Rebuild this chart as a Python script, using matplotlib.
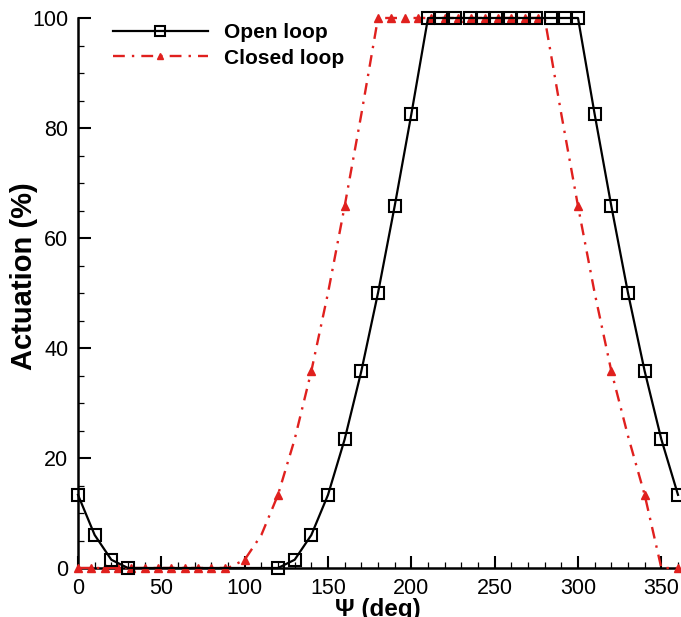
import matplotlib
matplotlib.use("Agg")
import matplotlib.pyplot as plt
from matplotlib.ticker import MultipleLocator
from matplotlib.lines import Line2D

# Open loop (black squares)
open_x = [0, 10, 20, 30, 120, 130, 140, 150, 160, 170, 180, 190, 200,
          210, 218, 226, 235, 243, 251, 259, 267, 275, 284, 292, 300,
          310, 320, 330, 340, 350, 360]
open_y = [13.3, 6.0, 1.5, 0.0, 0.0, 1.5, 6.0, 13.3, 23.4, 35.8, 50.0, 65.8, 82.5,
          100, 100, 100, 100, 100, 100, 100, 100, 100, 100, 100, 100,
          82.5, 65.8, 50.0, 35.8, 23.4, 13.3]
open_marked_x = [0, 10, 20, 30, 120, 130, 140, 150, 160, 170, 180, 190, 200,
                 210, 218, 226, 235, 243, 251, 259, 267, 275, 284, 292, 300,
                 310, 320, 330, 340, 350, 360]

# Closed loop (red triangles)
closed_x = [0, 8, 16, 24, 32, 40, 48, 56, 64, 72, 80, 88, 90,
            100, 110, 120, 130, 140, 150, 160, 170,
            180, 188, 196, 204, 212, 220, 228, 236, 244, 252, 260, 268, 276, 280,
            290, 300, 310, 320, 330, 340, 350, 360]
closed_y = [0, 0, 0, 0, 0, 0, 0, 0, 0, 0, 0, 0, 0,
            1.5, 6.0, 13.3, 23.4, 35.8, 50.0, 65.8, 82.5,
            100, 100, 100, 100, 100, 100, 100, 100, 100, 100, 100, 100, 100, 100,
            82.5, 65.8, 50.0, 35.8, 24.0, 13.3, 0.0, 0.0]
closed_marked_x = [0, 8, 16, 24, 32, 40, 48, 56, 64, 72, 80, 88,
                   100, 120, 140, 160,
                   180, 188, 196, 204, 212, 220, 228, 236, 244, 252, 260, 268, 276,
                   300, 320, 340, 360]

x_ticks = [0, 50, 100, 150, 200, 250, 300, 350]
y_ticks = [0, 20, 40, 60, 80, 100]

FONT = "Liberation Sans"
plt.rcParams['font.family'] = [FONT, 'DejaVu Sans']

fig = plt.figure(figsize=(6.81, 6.17), dpi=100)
ax = fig.add_axes([78/681, 49/617, 600/681, 550/617])

red = '#e0201e'
dashdot = (0, (5, 3, 1, 3))
c_mark = [i for i, v in enumerate(closed_x) if v in closed_marked_x]
o_mark = [i for i, v in enumerate(open_x) if v in open_marked_x]

ax.plot(closed_x, closed_y, color=red, lw=1.7, linestyle=dashdot,
        marker='^', markersize=6, markerfacecolor=red, markeredgecolor=red,
        markevery=c_mark, clip_on=False, zorder=3)
ax.plot(open_x, open_y, color='black', lw=1.6, marker='s', markersize=8.5,
        markerfacecolor='none', markeredgecolor='black', markeredgewidth=1.5,
        markevery=o_mark, clip_on=False, zorder=4)

h1 = Line2D([], [], color='black', lw=1.6, marker='s', markersize=7,
            markerfacecolor='none', markeredgecolor='black', markeredgewidth=1.5)
h2 = Line2D([], [], color=red, lw=1.7, linestyle=dashdot,
            marker='^', markersize=5, markerfacecolor=red, markeredgecolor=red)
ax.legend([h1, h2], ['Open loop', 'Closed loop'], loc='upper left',
          bbox_to_anchor=(0.058, 0.99), borderaxespad=0, borderpad=0,
          frameon=False, handlelength=4.55, handletextpad=0.8,
          labelspacing=0.3,
          prop={'family': FONT, 'weight': 'bold', 'size': 15})

ax.set_xlim(0, 360)
ax.set_ylim(0, 100)
ax.set_xticks(x_ticks)
ax.set_yticks(y_ticks)
ax.xaxis.set_minor_locator(MultipleLocator(10))
ax.yaxis.set_minor_locator(MultipleLocator(5))
ax.tick_params(which='major', direction='in', length=9, width=1.5,
               labelsize=15.5, pad=7)
ax.tick_params(which='minor', direction='in', length=4.5, width=0.9)
for s in ['top', 'right']:
    ax.spines[s].set_visible(False)
for s in ['left', 'bottom']:
    ax.spines[s].set_linewidth(1.8)

ax.set_ylabel('Actuation (%)', fontsize=21, fontweight='bold')
ax.yaxis.set_label_coords(-0.067, 0.53)
ax.set_xlabel('\u03a8 (deg)', fontsize=17.5, fontweight='bold', labelpad=-0.5)

fig.savefig('out.png', dpi=100)
